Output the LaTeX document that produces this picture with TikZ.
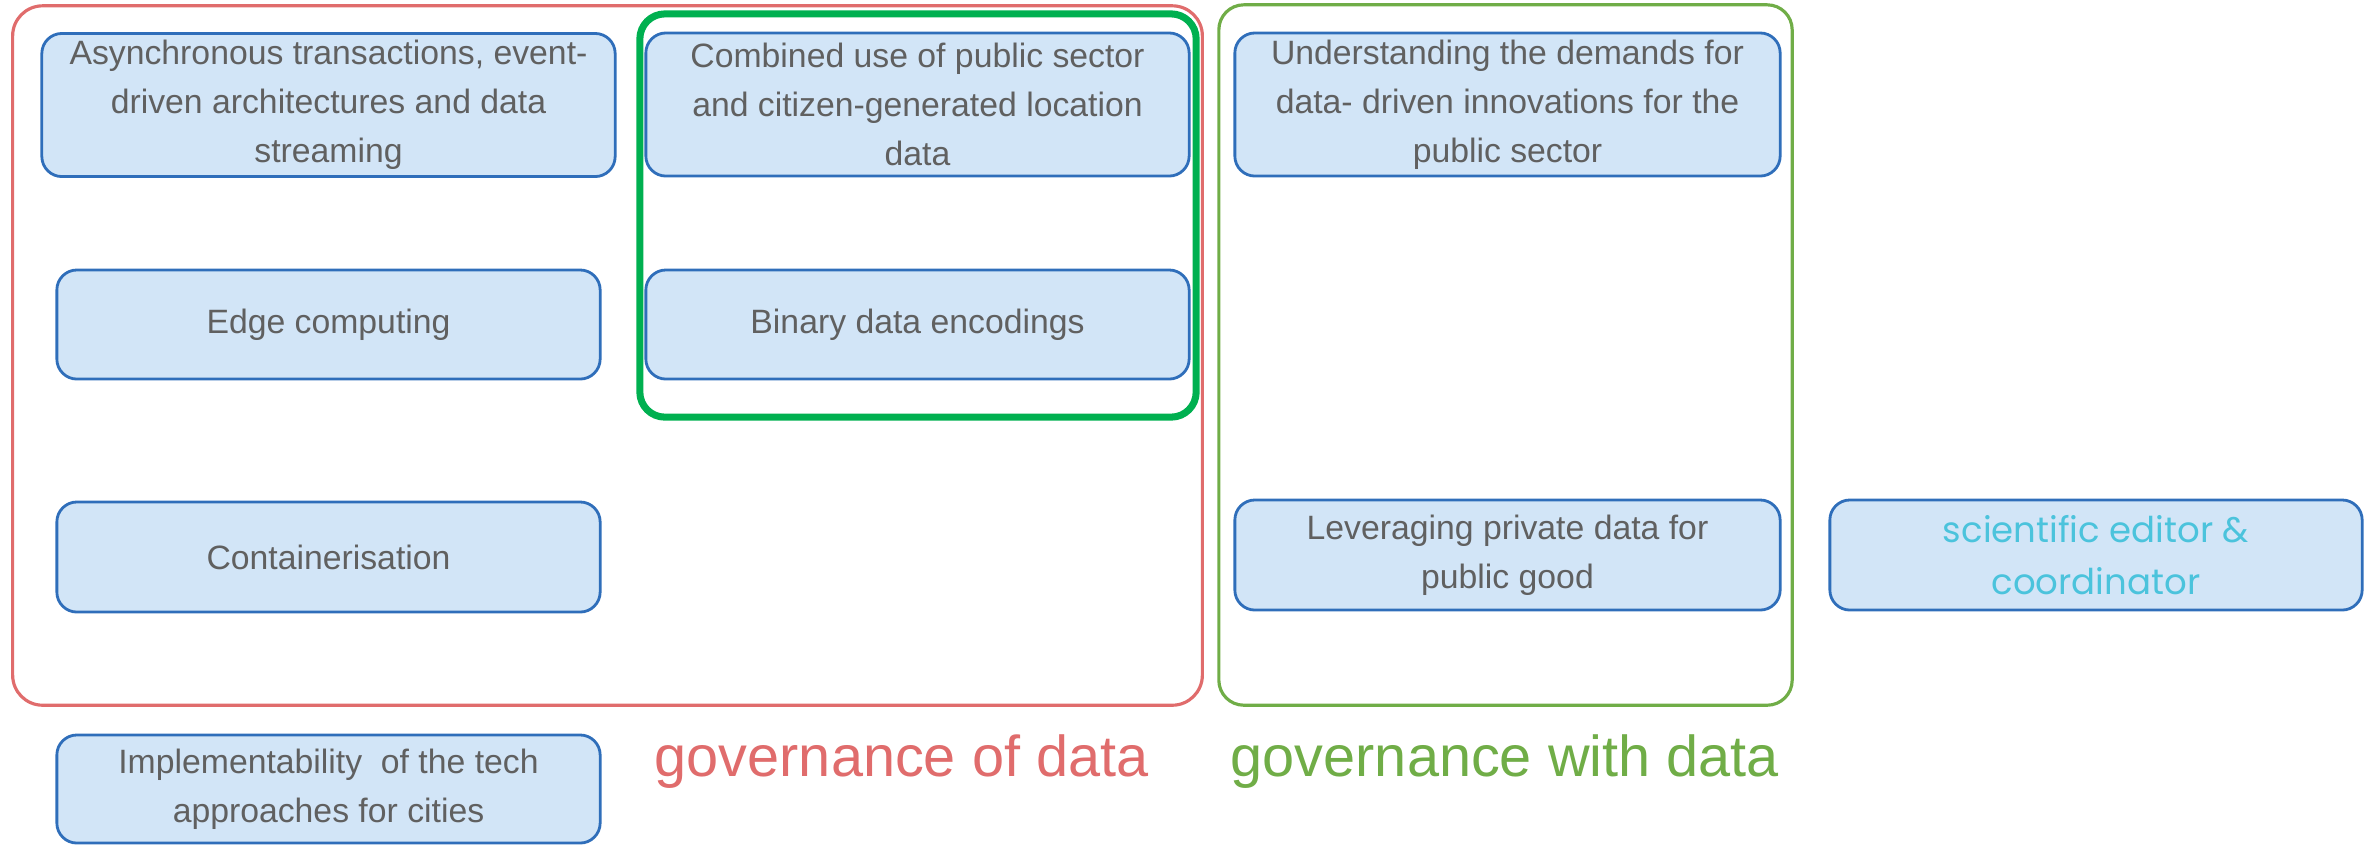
\documentclass[tikz,border=0pt]{standalone}
\usepackage{fontspec}
\setmainfont{Liberation Sans}
\newfontfamily\coordfont{Poppins}
\usepackage{tikz}
\usetikzlibrary{positioning}
\definecolor{topicfill}{RGB}{210,229,247}
\definecolor{topicedge}{RGB}{47,110,186}
\definecolor{topictext}{RGB}{96,96,96}
\definecolor{ofcolor}{RGB}{224,108,108}
\definecolor{withcolor}{RGB}{112,173,71}
\definecolor{jointcolor}{RGB}{0,176,80}
\definecolor{coordcolor}{RGB}{75,195,220}
\tikzstyle{topic}=[rectangle,rounded corners=0.2cm,draw=topicedge,fill=topicfill,line width=0.8pt,text=topictext,align=center,inner sep=0pt,font=\fontsize{9.6}{13.9}\selectfont]
\tikzstyle{wide topic}=[topic,minimum width=5.43cm,minimum height=1.09cm]
\tikzstyle{tall topic}=[topic,minimum height=1.43cm]
\tikzstyle{frame}=[rectangle,rounded corners=0.3cm,line width=0.9pt,inner sep=0pt]
\tikzstyle{group label}=[inner sep=0pt,anchor=base west,font=\fontsize{16.4}{20}\selectfont]

\begin{document}
\begin{tikzpicture}[x=0.01cm,y=-0.01cm]
\def\colA{328.5}
\def\colB{917.5}
\def\colC{1507.5}
\def\colD{2096}
\useasboundingbox (0,0) rectangle (2364,844);

	% Frames
    \node[frame, draw=ofcolor, minimum width=11.89cm, minimum height=6.99cm] (ofFrame) at (607.5,355.5) {};
    \node[frame, draw=withcolor, rounded corners=0.25cm, minimum width=5.73cm, minimum height=7cm] (withFrame) at (1505.5,355) {};

	% First column
    \node[tall topic, minimum width=5.73cm] (T-1) at (\colA,105) {Asynchronous transactions, event-\\driven architectures and data\\streaming};
    \node[wide topic] (T-2) at (\colA,324.5) {Edge computing};
    \node[wide topic, minimum height=1.1cm] (T-3) at (\colA,557) {Containerisation};
    \node[wide topic, minimum height=1.08cm] (T-4) at (\colA,789) {Implementability~ of the tech\\approaches for cities};

	% Second column
    \node[tall topic, minimum width=5.43cm] (T-5) at (\colB,104.5) {Combined use of public sector\\and citizen-generated location\\data};
    \node[wide topic] (T-6) at (\colB,324.5) {Binary data encodings};
    \node[frame, draw=jointcolor, line width=2pt, rounded corners=0.25cm, minimum width=5.56cm, minimum height=4.03cm] (jointFrame) at (918,215.5) {};

	% Third and fourth column
    \node[tall topic, minimum width=5.45cm] (T-7) at (\colC,104.5) {Understanding the demands for\\data- driven innovations for the\\public sector};
    \node[wide topic, minimum width=5.45cm, minimum height=1.1cm] (T-8) at (\colC,555) {Leveraging private data for\\public good};
    \node[wide topic, minimum width=5.32cm, minimum height=1.1cm, text=coordcolor, font=\coordfont\fontsize{10.1}{14.6}\selectfont] (T-9) at (\colD,555) {scientific editor \&\\coordinator};

	% Labels
    \node[group label, text=ofcolor] (ofLabel) at (654,776) {governance of data};
    \node[group label, text=withcolor] (withLabel) at (1230,776) {governance with data};

\end{tikzpicture}
\end{document}
